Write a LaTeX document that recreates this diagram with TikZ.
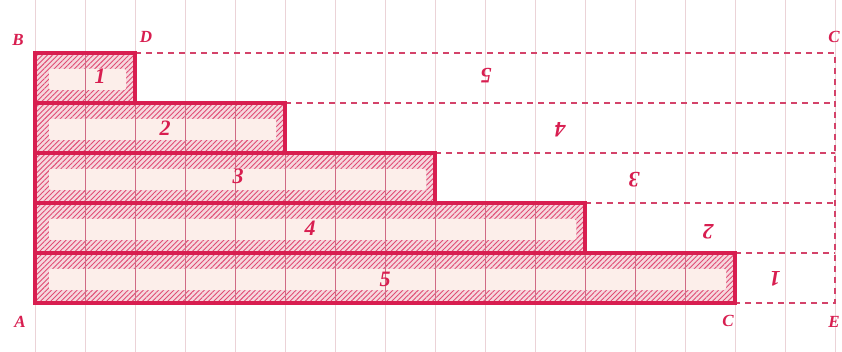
\documentclass[tikz,border=0pt]{standalone}
\usepackage{fontspec}
\setmainfont{Liberation Serif}
\usetikzlibrary{patterns.meta}
\definecolor{crim}{HTML}{D81E50}
\definecolor{gridc}{HTML}{EBD3D7}
\definecolor{gridin}{HTML}{D06A84}
\definecolor{pale}{HTML}{F6D8DE}
\definecolor{cream}{HTML}{FCEEEA}
\definecolor{dashc}{HTML}{D4436A}
\tikzset{
  lbl/.style={text=crim, font=\fontsize{17}{19}\selectfont\bfseries\itshape, inner sep=0pt},
  num/.style={text=crim, font=\fontsize{22}{24}\selectfont\bfseries\itshape, inner sep=0pt},
  dnum/.style={num, rotate=180},
  outline/.style={draw=crim, line width=3.2pt},
  dash line/.style={draw=dashc, line width=1.4pt, dash pattern=on 6pt off 5pt},
  gridline/.style={draw=gridc, line width=0.6pt},
}
\begin{document}
\begin{tikzpicture}[x=1pt,y=-1pt]
\useasboundingbox (0,0) rectangle (842,352);
\clip (0,0) rectangle (842,352);
\fill[white] (0,0) rectangle (842,352);
% faint graph-paper grid
\foreach \x in {35,85,...,835} \draw[gridline] (\x,0) -- (\x,352);
% bars
\foreach \i/\xe in {1/135,2/285,3/435,4/585,5/735} {
  \pgfmathsetmacro\t{53+50*(\i-1)}
  \fill[pale] (35,\t) rectangle (\xe,\t+50);
  \fill[pattern={Lines[angle=45,distance=3.6pt,line width=0.9pt]}, pattern color=crim!80] (35,\t) rectangle (\xe,\t+50);
  \fill[cream, rounded corners=2pt] (49,\t+16) rectangle (\xe-9,\t+37);
  \foreach \x in {85,135,...,\xe} \draw[gridin, line width=0.7pt] (\x,\t) -- (\x,\t+50);
}
% dashed complement
\coordinate (E) at (835,303);
\coordinate (Ctop) at (835,53);
\coordinate (d1) at (135,53);
\coordinate (d2) at (285,103);
\coordinate (d3) at (435,153);
\coordinate (d4) at (585,203);
\coordinate (d5) at (735,253);
\coordinate (Cb) at (735,303);
\draw[dash line] (d1) -- (Ctop) -- (E) -- (Cb);
\draw[dash line] (d2) -- (835,103);
\draw[dash line] (d3) -- (835,153);
\draw[dash line] (d4) -- (835,203);
\draw[dash line] (d5) -- (835,253);
% outlines
\foreach \i/\xe in {1/135,2/285,3/435,4/585,5/735} {
  \pgfmathsetmacro\t{53+50*(\i-1)}
  \draw[outline] (35,\t) rectangle (\xe,\t+50);
}
% numbers
\node[num] (n1) at (100,76) {1};
\node[num] (n2) at (165,128) {2};
\node[num] (n3) at (238,176) {3};
\node[num] (n4) at (310,228) {4};
\node[num] (n5) at (385,279) {5};
\node[dnum] (m5) at (486,76) {5};
\node[dnum] (m4) at (560,130) {4};
\node[dnum] (m3) at (634,180) {3};
\node[dnum] (m2) at (708,232) {2};
\node[dnum] (m1) at (775,279) {1};
% letters
\node[lbl] (lB) at (18,40) {B};
\node[lbl] (lD) at (146,37) {D};
\node[lbl] (lC2) at (834,37) {C};
\node[lbl] (lA) at (20,322) {A};
\node[lbl] (lC) at (728,321) {C};
\node[lbl] (lE) at (834,322) {E};
\end{tikzpicture}
\end{document}
